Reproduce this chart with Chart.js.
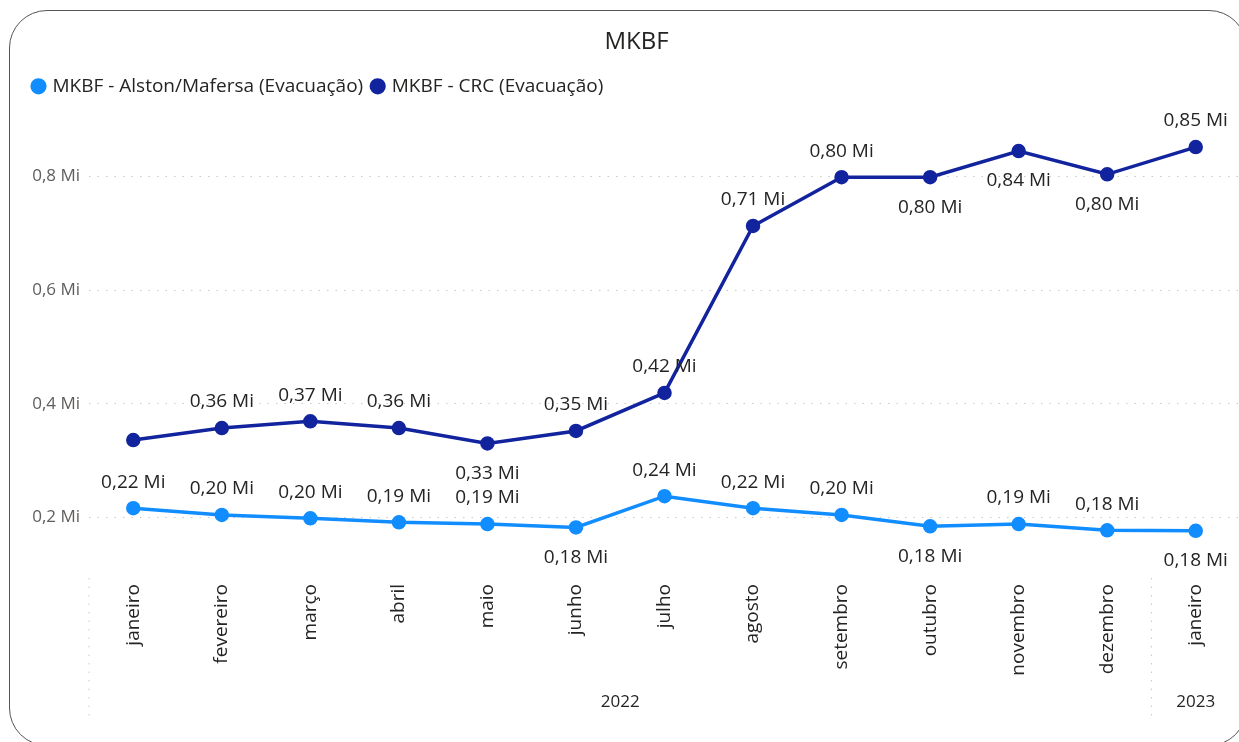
<!DOCTYPE html>
<html>
<head>
<meta charset="utf-8">
<script src="https://cdn.jsdelivr.net/npm/chart.js@4.4.1/dist/chart.umd.min.js"></script>
<style>
  html, body { margin: 0; padding: 0; background: #fff; }
  body { width: 1239px; height: 742px; overflow: hidden; position: relative; }
  #frame {
    position: absolute; left: 9px; top: 10px; width: 1236px; height: 734px;
    border: 1.5px solid #555; border-radius: 38px; pointer-events: none;
  }
  #wrap { position: absolute; left: 0; top: 0; width: 1249px; height: 742px; }
</style>
</head>
<body>
<div id="wrap"><canvas id="chart" width="1249" height="742"></canvas></div>
<div id="frame"></div>
<script>
/* DATA */
const months = ["janeiro","fevereiro","março","abril","maio","junho","julho","agosto","setembro","outubro","novembro","dezembro","janeiro"];
const years = ["2022","2022","2022","2022","2022","2022","2022","2022","2022","2022","2022","2022","2023"];
const alston = [0.216, 0.204, 0.198, 0.191, 0.188, 0.182, 0.237, 0.216, 0.204, 0.184, 0.188, 0.177, 0.176];
const crc = [0.336, 0.357, 0.369, 0.357, 0.330, 0.352, 0.419, 0.713, 0.799, 0.799, 0.845, 0.804, 0.852];
const yTicks = [0.2, 0.4, 0.6, 0.8];

/* label placement (style) */
const alstonPos = ["up","up","up","up","up","down","up","up","up","down","up","up","down"];
const crcPos = ["none","up","up","up","down","up","up","up","up","down","down","down","up"];

const FONT = "'Open Sans', 'Noto Sans', sans-serif";
const fmt = v => v.toFixed(2).replace(".", ",") + " Mi";

/* data labels on points */
const pointLabels = {
  id: "pointLabels",
  afterDatasetsDraw(chart) {
    const ctx = chart.ctx;
    ctx.save();
    ctx.font = "19px " + FONT;
    ctx.fillStyle = "#252423";
    ctx.textAlign = "center";
    ctx.textBaseline = "middle";
    chart.data.datasets.forEach((ds, i) => {
      const meta = chart.getDatasetMeta(i);
      meta.data.forEach((pt, j) => {
        const pos = ds.labelPos[j];
        if (pos === "none") return;
        const y = pos === "up" ? pt.y - 26 : pt.y + 30;
        ctx.fillText(fmt(ds.data[j]), pt.x, y);
      });
    });
    ctx.restore();
  }
};

/* extra room under the legend */
const legendGap = {
  id: "legendGap",
  beforeInit(chart) {
    const fit = chart.legend.fit;
    chart.legend.fit = function () {
      fit.bind(chart.legend)();
      this.height += 14;
    };
  }
};

/* year row + separators under the month axis */
const yearRow = {
  id: "yearRow",
  afterDraw(chart) {
    const ctx = chart.ctx;
    const x = chart.scales.x;
    const half = (x.getPixelForValue(1) - x.getPixelForValue(0)) / 2;
    const top = chart.chartArea.bottom + 4;
    const groups = [];
    years.forEach((y, i) => {
      const g = groups[groups.length - 1];
      if (g && g.year === y) g.end = i;
      else groups.push({ year: y, start: i, end: i });
    });
    ctx.save();
    ctx.strokeStyle = "#c8c8c8";
    ctx.lineWidth = 1;
    ctx.setLineDash([1.5, 7]);
    ctx.font = "17px " + FONT;
    ctx.fillStyle = "#252423";
    ctx.textAlign = "center";
    ctx.textBaseline = "middle";
    groups.forEach(g => {
      const left = x.getPixelForValue(g.start) - half;
      const right = x.getPixelForValue(g.end) + half;
      ctx.beginPath();
      ctx.moveTo(left, top);
      ctx.lineTo(left, 718);
      ctx.stroke();
      ctx.fillText(g.year, (left + right) / 2, 702);
    });
    ctx.restore();
  }
};

new Chart(document.getElementById("chart"), {
  type: "line",
  data: {
    labels: months,
    datasets: [
      {
        label: "MKBF - Alston/Mafersa (Evacuação)",
        data: alston,
        labelPos: alstonPos,
        borderColor: "#118DFF",
        backgroundColor: "#118DFF",
        borderWidth: 3.5,
        pointRadius: 5.5,
        pointStyle: "circle",
        tension: 0,
        clip: false
      },
      {
        label: "MKBF - CRC (Evacuação)",
        data: crc,
        labelPos: crcPos,
        borderColor: "#12239E",
        backgroundColor: "#12239E",
        borderWidth: 3.5,
        pointRadius: 5.5,
        pointStyle: "circle",
        tension: 0,
        clip: false
      }
    ]
  },
  options: {
    responsive: false,
    animation: false,
    layout: { padding: { left: 24, right: 0, top: 28, bottom: 0 } },
    plugins: {
      title: {
        display: true,
        text: "MKBF",
        color: "#252423",
        font: { family: FONT, size: 24, weight: "normal" },
        padding: { top: 0, bottom: 10 }
      },
      legend: {
        align: "start",
        labels: {
          usePointStyle: true,
          pointStyle: "circle",
          boxWidth: 9,
          boxHeight: 9,
          color: "#252423",
          font: { family: FONT, size: 19 },
          padding: 10
        }
      },
      tooltip: { enabled: false }
    },
    scales: {
      y: {
        min: 0.1,
        max: 0.9,
        border: { display: false, dash: [1.5, 7] },
        afterBuildTicks: s => { s.ticks = yTicks.map(v => ({ value: v })); },
        afterFit: s => { s.width = 65; },
        grid: {
          color: "#c8c8c8",
          lineWidth: 1,
          drawTicks: false
        },
        ticks: {
          color: "#605E5C",
          font: { family: FONT, size: 17 },
          padding: 9,
          callback: v => String(v).replace(".", ",") + " Mi"
        }
      },
      x: {
        offset: true,
        border: { display: false },
        grid: { display: false },
        afterFit: s => { s.height = 168; },
        ticks: {
          autoSkip: false,
          maxRotation: 90,
          minRotation: 90,
          color: "#252423",
          font: { family: FONT, size: 19 },
          padding: 2
        }
      }
    }
  },
  plugins: [pointLabels, yearRow, legendGap]
});
</script>
</body>
</html>
